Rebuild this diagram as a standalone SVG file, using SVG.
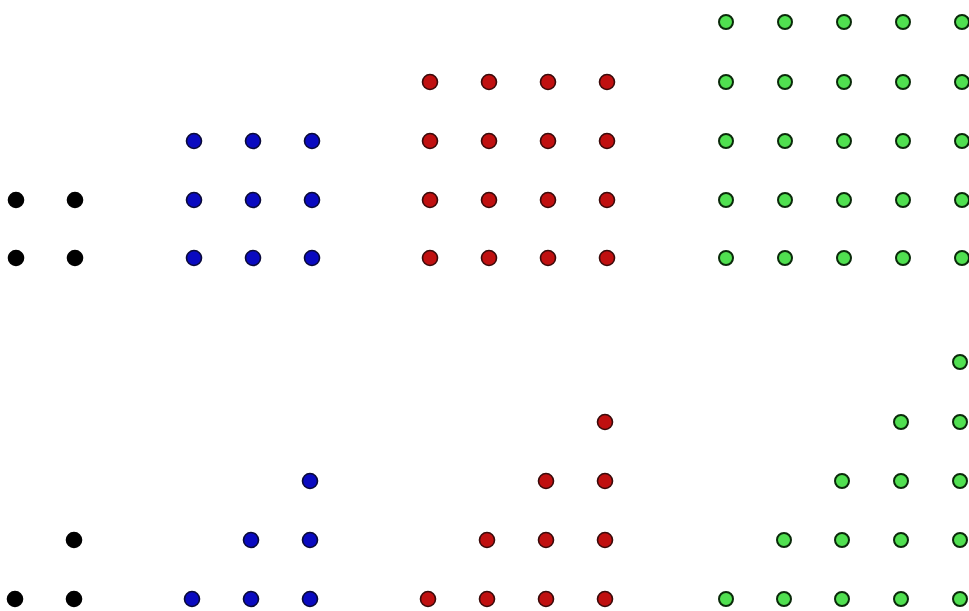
<svg xmlns="http://www.w3.org/2000/svg" width="969" height="611" viewBox="0 0 969 611">
<style>
circle{stroke-width:1.6}
.k{fill:#000;stroke:#000}
.b{fill:#0a0ac0;stroke:#0a0a3a}
.r{fill:#c01010;stroke:#3a0a0a}
.g{fill:#50e050;stroke:#0a2a0a;stroke-width:2}
</style>
<rect width="969" height="611" fill="#fff"/>
<g id="top-black">
<circle class="k" cx="16" cy="200" r="7.5"/><circle class="k" cx="75" cy="200" r="7.5"/>
<circle class="k" cx="16" cy="258" r="7.5"/><circle class="k" cx="75" cy="258" r="7.5"/>
</g>
<g id="top-blue">
<circle class="b" cx="194" cy="141" r="7.5"/><circle class="b" cx="253" cy="141" r="7.5"/><circle class="b" cx="312" cy="141" r="7.5"/>
<circle class="b" cx="194" cy="200" r="7.5"/><circle class="b" cx="253" cy="200" r="7.5"/><circle class="b" cx="312" cy="200" r="7.5"/>
<circle class="b" cx="194" cy="258" r="7.5"/><circle class="b" cx="253" cy="258" r="7.5"/><circle class="b" cx="312" cy="258" r="7.5"/>
</g>
<g id="top-red">
<circle class="r" cx="430" cy="82" r="7.5"/><circle class="r" cx="489" cy="82" r="7.5"/><circle class="r" cx="548" cy="82" r="7.5"/><circle class="r" cx="607" cy="82" r="7.5"/>
<circle class="r" cx="430" cy="141" r="7.5"/><circle class="r" cx="489" cy="141" r="7.5"/><circle class="r" cx="548" cy="141" r="7.5"/><circle class="r" cx="607" cy="141" r="7.5"/>
<circle class="r" cx="430" cy="200" r="7.5"/><circle class="r" cx="489" cy="200" r="7.5"/><circle class="r" cx="548" cy="200" r="7.5"/><circle class="r" cx="607" cy="200" r="7.5"/>
<circle class="r" cx="430" cy="258" r="7.5"/><circle class="r" cx="489" cy="258" r="7.5"/><circle class="r" cx="548" cy="258" r="7.5"/><circle class="r" cx="607" cy="258" r="7.5"/>
</g>
<g id="top-green">
<circle class="g" cx="726" cy="22" r="7"/><circle class="g" cx="785" cy="22" r="7"/><circle class="g" cx="844" cy="22" r="7"/><circle class="g" cx="903" cy="22" r="7"/><circle class="g" cx="962" cy="22" r="7"/>
<circle class="g" cx="726" cy="82" r="7"/><circle class="g" cx="785" cy="82" r="7"/><circle class="g" cx="844" cy="82" r="7"/><circle class="g" cx="903" cy="82" r="7"/><circle class="g" cx="962" cy="82" r="7"/>
<circle class="g" cx="726" cy="141" r="7"/><circle class="g" cx="785" cy="141" r="7"/><circle class="g" cx="844" cy="141" r="7"/><circle class="g" cx="903" cy="141" r="7"/><circle class="g" cx="962" cy="141" r="7"/>
<circle class="g" cx="726" cy="200" r="7"/><circle class="g" cx="785" cy="200" r="7"/><circle class="g" cx="844" cy="200" r="7"/><circle class="g" cx="903" cy="200" r="7"/><circle class="g" cx="962" cy="200" r="7"/>
<circle class="g" cx="726" cy="258" r="7"/><circle class="g" cx="785" cy="258" r="7"/><circle class="g" cx="844" cy="258" r="7"/><circle class="g" cx="903" cy="258" r="7"/><circle class="g" cx="962" cy="258" r="7"/>
</g>
<g id="bottom-black">
<circle class="k" cx="74" cy="540" r="7.5"/>
<circle class="k" cx="15" cy="599" r="7.5"/><circle class="k" cx="74" cy="599" r="7.5"/>
</g>
<g id="bottom-blue">
<circle class="b" cx="310" cy="481" r="7.5"/>
<circle class="b" cx="251" cy="540" r="7.5"/><circle class="b" cx="310" cy="540" r="7.5"/>
<circle class="b" cx="192" cy="599" r="7.5"/><circle class="b" cx="251" cy="599" r="7.5"/><circle class="b" cx="310" cy="599" r="7.5"/>
</g>
<g id="bottom-red">
<circle class="r" cx="605" cy="422" r="7.5"/>
<circle class="r" cx="546" cy="481" r="7.5"/><circle class="r" cx="605" cy="481" r="7.5"/>
<circle class="r" cx="487" cy="540" r="7.5"/><circle class="r" cx="546" cy="540" r="7.5"/><circle class="r" cx="605" cy="540" r="7.5"/>
<circle class="r" cx="428" cy="599" r="7.5"/><circle class="r" cx="487" cy="599" r="7.5"/><circle class="r" cx="546" cy="599" r="7.5"/><circle class="r" cx="605" cy="599" r="7.5"/>
</g>
<g id="bottom-green">
<circle class="g" cx="960" cy="362" r="7"/>
<circle class="g" cx="901" cy="422" r="7"/><circle class="g" cx="960" cy="422" r="7"/>
<circle class="g" cx="842" cy="481" r="7"/><circle class="g" cx="901" cy="481" r="7"/><circle class="g" cx="960" cy="481" r="7"/>
<circle class="g" cx="784" cy="540" r="7"/><circle class="g" cx="842" cy="540" r="7"/><circle class="g" cx="901" cy="540" r="7"/><circle class="g" cx="960" cy="540" r="7"/>
<circle class="g" cx="726" cy="599" r="7"/><circle class="g" cx="784" cy="599" r="7"/><circle class="g" cx="842" cy="599" r="7"/><circle class="g" cx="901" cy="599" r="7"/><circle class="g" cx="960" cy="599" r="7"/>
</g>
</svg>
